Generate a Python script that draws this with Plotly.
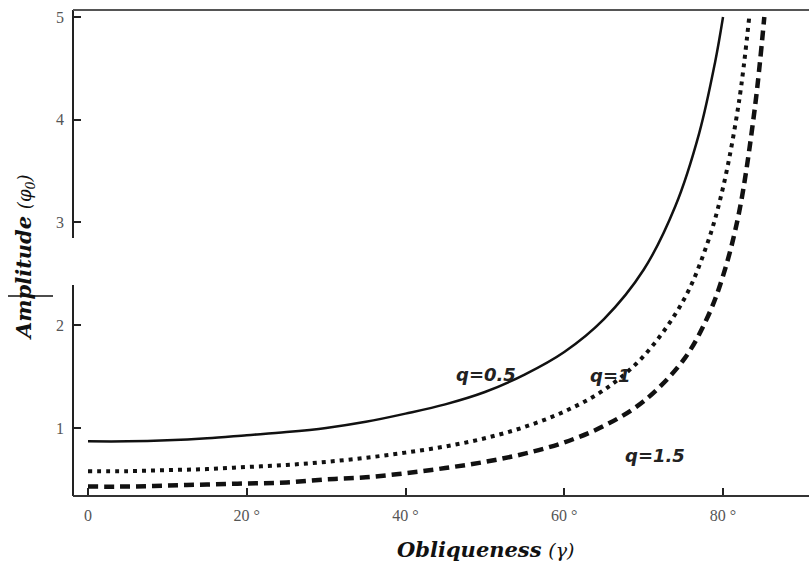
import plotly.graph_objects as go

# Obliqueness (degrees) and amplitude
gamma_a = [0, 5, 10, 15, 20, 25, 30, 35, 40, 45, 50, 55, 60, 65, 70, 74, 77, 79, 80]
amp_q05 = [0.87, 0.87, 0.88, 0.90, 0.93, 0.96, 1.00, 1.06, 1.14, 1.23, 1.35, 1.52, 1.74, 2.06, 2.54, 3.16, 3.87, 4.56, 5.0]

gamma_b = [0, 5, 10, 15, 20, 25, 30, 35, 40, 45, 50, 55, 60, 65, 70, 75, 78, 80, 82, 83.3]
amp_q1 = [0.58, 0.58, 0.59, 0.60, 0.62, 0.64, 0.67, 0.71, 0.76, 0.82, 0.90, 1.01, 1.16, 1.37, 1.70, 2.24, 2.79, 3.34, 4.17, 5.0]

gamma_c = [0, 5, 10, 15, 20, 25, 30, 35, 40, 45, 50, 55, 60, 65, 70, 75, 78, 80, 82, 84, 85.2]
amp_q15 = [0.43, 0.43, 0.44, 0.45, 0.46, 0.47, 0.50, 0.52, 0.56, 0.61, 0.67, 0.75, 0.86, 1.02, 1.26, 1.66, 2.07, 2.48, 3.09, 4.11, 5.0]

x_tickvals = [0, 20, 40, 60, 80]
x_ticktext = ["0", "20 °", "40 °", "60 °", "80 °"]
y_tickvals = [1, 2, 3, 4, 5]
y_ticktext = ["1", "2", "3", "4", "5"]

curve_labels = ["q=0.5", "q=1", "q=1.5"]
label_x = [50.2, 65.8, 71.4]
label_y = [1.52, 1.51, 0.73]

fig = go.Figure()
fig.add_trace(go.Scatter(x=gamma_a, y=amp_q05, mode="lines", line=dict(color="#111", width=2.5, shape="spline"), showlegend=False))
fig.add_trace(go.Scatter(x=gamma_b, y=amp_q1, mode="lines", line=dict(color="#111", width=4, dash="4px,5px", shape="spline"), showlegend=False))
fig.add_trace(go.Scatter(x=gamma_c, y=amp_q15, mode="lines", line=dict(color="#111", width=4.5, dash="10px,6px", shape="spline"), showlegend=False))

for t, xx, yy in zip(curve_labels, label_x, label_y):
    fig.add_annotation(x=xx, y=yy, xref="x", yref="y", text="<b><i>%s</i></b>" % t, showarrow=False,
                       font=dict(family="DejaVu Sans", size=18, color="#222"))

# axis titles
fig.add_annotation(x=(485 - 73) / 736, y=(496 - 549) / 486, xref="paper", yref="paper", showarrow=False,
                   text="<b><i>Obliqueness</i></b> <i><span style='font-size:19px;font-weight:normal'>(γ)</span></i>",
                   font=dict(family="DejaVu Serif", size=21, color="#111"), xanchor="center", yanchor="middle")
fig.add_annotation(x=(24 - 73) / 736, y=(496 - 257) / 486, xref="paper", yref="paper", showarrow=False, textangle=-90,
                   text="<b><i>Amplitude</i></b> <i><span style='font-size:18px'>(φ<sub>0</sub>)</span></i>",
                   font=dict(family="DejaVu Serif", size=21, color="#111"), xanchor="center", yanchor="middle")

shapes = [
    # left axis, broken
    dict(type="line", xref="paper", yref="paper", x0=0, x1=0, y0=(496 - 238) / 486, y1=1, line=dict(color="#222", width=2)),
    dict(type="line", xref="paper", yref="paper", x0=0, x1=0, y0=0, y1=(496 - 285) / 486, line=dict(color="#222", width=2)),
    # bottom axis
    dict(type="line", xref="paper", yref="paper", x0=0, x1=1, y0=0, y1=0, line=dict(color="#333", width=2)),
    # top border
    dict(type="line", xref="paper", yref="paper", x0=0, x1=1, y0=1, y1=1, line=dict(color="#555", width=2)),
    # stray stroke across title
    dict(type="line", xref="paper", yref="paper", x0=(8 - 73) / 736, x1=(53 - 73) / 736,
         y0=(496 - 296) / 486, y1=(496 - 296) / 486, line=dict(color="#111", width=1.5)),
]

fig.update_layout(
    width=809, height=567,
    margin=dict(l=73, r=0, t=10, b=71),
    paper_bgcolor="white", plot_bgcolor="white",
    shapes=shapes,
    xaxis=dict(range=[-1.89, 90.83], tickvals=x_tickvals, ticktext=x_ticktext, ticks="inside", ticklen=8,
               tickwidth=1.5, tickcolor="#222", showgrid=False, zeroline=False, showline=False,
               tickfont=dict(family="Liberation Serif", size=16, color="#555"), ticklabelstandoff=8),
    yaxis=dict(range=[0.338, 5.068], tickvals=y_tickvals, ticktext=y_ticktext, ticks="inside", ticklen=8,
               tickwidth=1.5, tickcolor="#222", showgrid=False, zeroline=False, showline=False,
               tickfont=dict(family="Liberation Serif", size=16, color="#555"), ticklabelstandoff=8),
)

fig.write_html("out.html")
